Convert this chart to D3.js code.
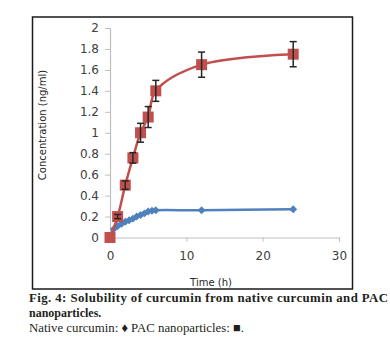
<!DOCTYPE html>
<html>
<head>
<meta charset="utf-8">
<script src="https://cdn.jsdelivr.net/npm/d3@7"></script>
<style>
  body { margin: 0; background: #fff; }
  svg { display: block; }
</style>
</head>
<body>
<svg id="chart" width="390" height="350"></svg>
<script>
'use strict';

// PAC nanoparticles (red squares)
const pacTime = [0, 1, 2, 3, 4, 5, 6, 12, 24];
const pacConc = [0, 0.2, 0.5, 0.76, 1.0, 1.15, 1.4, 1.65, 1.75];
const pacErr  = [0, 0.02, 0.04, 0.05, 0.09, 0.1, 0.1, 0.12, 0.12];

// native curcumin (blue diamonds)
const nativeTime = [0, 0.5, 1, 1.5, 2, 2.5, 3, 3.5, 4, 4.5, 5, 5.5, 6, 12, 24];
const nativeConc = [0, 0.08, 0.11, 0.13, 0.15, 0.165, 0.18, 0.2, 0.215, 0.23, 0.248, 0.255, 0.26, 0.26, 0.27];

const xTicks = [0, 10, 20, 30];
const yTicks = [0, 0.2, 0.4, 0.6, 0.8, 1, 1.2, 1.4, 1.6, 1.8, 2];

const captionLines = [
  "Fig. 4: Solubility of curcumin from native curcumin and PAC",
  "nanoparticles.",
  "Native curcumin: \u2666 PAC nanoparticles: \u25A0."
];

const svg = d3.select('#chart');
const red = '#c0504d', blue = '#4f81bd', axisCol = '#bfbfbf', txt = '#404040';

let x = d3.scaleLinear().domain([0, 30]).range([110, 339]);
let y = d3.scaleLinear().domain([0, 2]).range([237.5, 28]);

// outer frame
svg.append('rect')
  .attr('x', 32.5).attr('y', 17)
  .attr('width', 320).attr('height', 272)
  .attr('fill', 'none').attr('stroke', '#1a1a1a').attr('stroke-width', 1.5);

// axes
let yAxis = svg.append('g')
  .attr('transform', 'translate(110,0)')
  .call(d3.axisLeft(y).tickValues(yTicks).tickSize(5).tickPadding(6)
    .tickFormat(d => String(+d.toFixed(1))));
let xAxis = svg.append('g')
  .attr('transform', 'translate(0,237.5)')
  .call(d3.axisBottom(x).tickValues(xTicks).tickSize(4).tickPadding(10));

[yAxis, xAxis].forEach(g => {
  g.select('.domain').attr('stroke', axisCol).attr('stroke-width', 1.2);
  g.selectAll('.tick line').attr('stroke', axisCol);
  g.selectAll('.tick text')
    .attr('fill', txt)
    .attr('font-family', 'DejaVu Sans')
    .attr('font-size', 12);
});

// axis titles
svg.append('text')
  .attr('transform', 'translate(46,125) rotate(-90)')
  .attr('text-anchor', 'middle')
  .attr('font-family', 'DejaVu Sans').attr('font-size', 10).attr('fill', '#262626')
  .text('Concentration (ng/ml)');
svg.append('text')
  .attr('x', 211).attr('y', 286)
  .attr('text-anchor', 'middle')
  .attr('font-family', 'DejaVu Sans').attr('font-size', 10).attr('fill', '#262626')
  .text('Time (h)');

// native curcumin
let nativeData = nativeTime.map((t, i) => ({ t, v: nativeConc[i] }));
let line = d3.line().x(d => x(d.t)).y(d => y(d.v)).curve(d3.curveCatmullRom);

svg.append('path')
  .datum(nativeData)
  .attr('d', line)
  .attr('fill', 'none').attr('stroke', blue).attr('stroke-width', 2.5);

svg.selectAll('.dia')
  .data(nativeData)
  .enter().append('path')
  .attr('class', 'dia')
  .attr('d', d3.symbol().type(d3.symbolDiamond2).size(40))
  .attr('transform', d => `translate(${x(d.t)},${y(d.v)})`)
  .attr('fill', blue);

// PAC nanoparticles
let pacData = pacTime.map((t, i) => ({ t, v: pacConc[i], e: pacErr[i] }));

svg.append('path')
  .datum(pacData)
  .attr('d', line)
  .attr('fill', 'none').attr('stroke', red).attr('stroke-width', 2.5);

svg.selectAll('.sq')
  .data(pacData)
  .enter().append('rect')
  .attr('class', 'sq')
  .attr('x', d => x(d.t) - 5.5).attr('y', d => y(d.v) - 5.5)
  .attr('width', 11).attr('height', 11)
  .attr('fill', red);

// error bars
let eb = svg.selectAll('.err')
  .data(pacData.filter(d => d.e > 0))
  .enter().append('g')
  .attr('class', 'err')
  .attr('stroke', '#262626').attr('stroke-width', 1.5);
eb.append('line')
  .attr('x1', d => x(d.t)).attr('x2', d => x(d.t))
  .attr('y1', d => y(d.v + d.e)).attr('y2', d => y(d.v - d.e));
eb.append('line')
  .attr('x1', d => x(d.t) - 3.5).attr('x2', d => x(d.t) + 3.5)
  .attr('y1', d => y(d.v + d.e)).attr('y2', d => y(d.v + d.e));
eb.append('line')
  .attr('x1', d => x(d.t) - 3.5).attr('x2', d => x(d.t) + 3.5)
  .attr('y1', d => y(d.v - d.e)).attr('y2', d => y(d.v - d.e));

// caption
let cap = svg.selectAll('.cap')
  .data(captionLines)
  .enter().append('text')
  .attr('class', 'cap')
  .attr('x', 29)
  .attr('y', (d, i) => 302 + i * 15)
  .attr('font-family', 'Liberation Serif')
  .attr('font-size', (d, i) => i == 1 ? 12 : 12.8)
  .attr('font-weight', (d, i) => i < 2 ? 'bold' : 'normal')
  .attr('fill', '#231f20')
  .text(d => d);
cap.filter((d, i) => i == 0)
  .attr('textLength', 359)
  .attr('lengthAdjust', 'spacing');
</script>
</body>
</html>
